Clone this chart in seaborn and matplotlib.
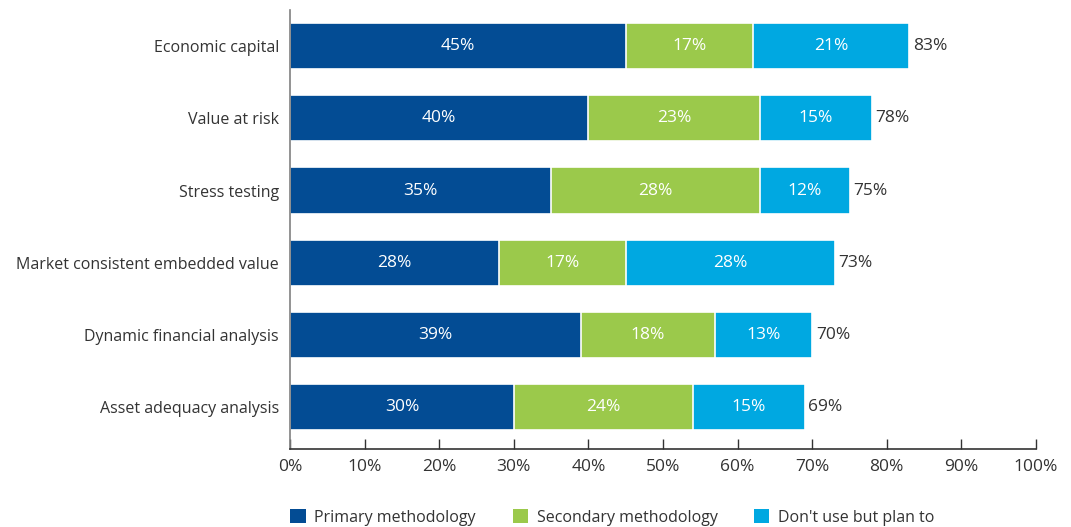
import numpy as np
import pandas as pd
import matplotlib
matplotlib.use("Agg")
import matplotlib.pyplot as plt
import seaborn as sns
from matplotlib.patches import Patch

categories = ["Economic capital", "Value at risk", "Stress testing",
              "Market consistent embedded value", "Dynamic financial analysis",
              "Asset adequacy analysis"]
primary = [45, 40, 35, 28, 39, 30]
secondary = [17, 23, 28, 17, 18, 24]
plan_to = [21, 15, 12, 28, 13, 15]
totals = [83, 78, 75, 73, 70, 69]
series_names = ["Primary methodology", "Secondary methodology", "Don't use but plan to"]
xticks = [0, 10, 20, 30, 40, 50, 60, 70, 80, 90, 100]

colors = ["#034C94", "#9BC94B", "#00A8E1"]
text_dark = "#333333"

sns.set_theme(style="white")
plt.rcParams["font.family"] = ["Open Sans", "DejaVu Sans"]

p = np.array(primary)
s = np.array(secondary)
t = np.array(plan_to)
df = pd.DataFrame({
    "category": categories,
    "level1": p,
    "level2": p + s,
    "level3": p + s + t,
})

fig = plt.figure(figsize=(10.71, 5.27), dpi=100)
ax = fig.add_axes([290 / 1071, 78 / 527, 746 / 1071, 439 / 527])

# stacked bars drawn back to front from the cumulative sums
for col, c in zip(["level3", "level2", "level1"], colors[::-1]):
    sns.barplot(data=df, x=col, y="category", color=c, width=0.64,
                saturation=1, edgecolor="white", linewidth=1.2, ax=ax, orient="h")

# segment labels
for i in range(len(categories)):
    starts = [0, p[i], p[i] + s[i]]
    vals = [p[i], s[i], t[i]]
    for st, v in zip(starts, vals):
        ax.text(st + v / 2, i, f"{v}%", ha="center", va="center",
                color="white", fontsize=12.5)
    ax.text(p[i] + s[i] + t[i] + 0.5, i, f"{totals[i]}%", ha="left",
            va="center", color=text_dark, fontsize=12.5)

ax.set_xlim(0, 100)
ax.set_ylim(5.58, -0.5)
ax.set_xticks(xticks)
ax.set_xticklabels([f"{v}%" for v in xticks])
ax.set_xlabel("")
ax.set_ylabel("")

for side in ["top", "right"]:
    ax.spines[side].set_visible(False)
ax.spines["left"].set_color("#808080")
ax.spines["left"].set_linewidth(1.2)
ax.spines["bottom"].set_color("#333333")
ax.spines["bottom"].set_linewidth(1.2)

ax.tick_params(axis="x", direction="in", length=7, width=1, color="#333333",
               labelsize=12.5, labelcolor=text_dark, pad=7, bottom=True)
ax.tick_params(axis="y", length=0, labelsize=11.5, labelcolor=text_dark, pad=8)

handles = [Patch(facecolor=c, edgecolor="none", label=n)
           for c, n in zip(colors, series_names)]
fig.legend(handles=handles, loc="lower left", bbox_to_anchor=(276 / 1071, -0.025),
           ncol=3, frameon=False, fontsize=11.5, handlelength=0.95, handleheight=0.95,
           handletextpad=0.55, columnspacing=2.3, labelcolor=text_dark)

fig.savefig("out.png", dpi=100)
